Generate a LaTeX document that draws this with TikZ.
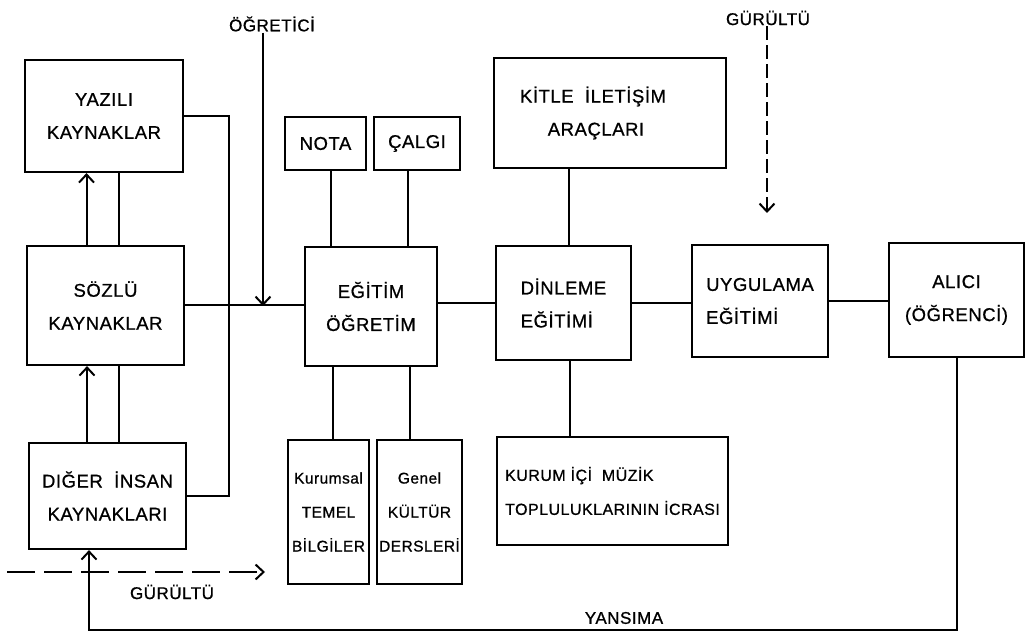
\documentclass[tikz,border=0pt]{standalone}
\usepackage{fontspec}
\setmainfont{Liberation Sans}[LetterSpace=3,FakeBold=0.8]
\usetikzlibrary{arrows.meta}
\begin{document}
\begin{tikzpicture}[x=1pt,y=-1pt,
  box/.style={draw, line width=2.2pt, inner sep=2pt, align=center, font=\fontsize{18.5}{33}\selectfont},
  smallbox/.style={font=\fontsize{15.5}{34}\selectfont, inner sep=1pt},
  conn/.style={line width=2pt},
  arr/.style={conn, -{Straight Barb[length=8pt,width=15pt,line width=2pt]}},
  lbl/.style={font=\fontsize{17}{20}\selectfont, inner sep=1pt}]
\useasboundingbox (0,0) rectangle (1031,636);
\fill[white] (0,0) rectangle (1031,636);

% boxes
\node[box, minimum width=158pt, minimum height=112pt] (yaz) at (104,116) {YAZILI\\KAYNAKLAR};
\node[box, minimum width=157pt, minimum height=119pt] (soz) at (105.5,305.5) {SÖZLÜ\\KAYNAKLAR};
\node[box, minimum width=157pt, minimum height=106pt] (dig) at (107.5,496) {DIĞER\ \ İNSAN\\KAYNAKLARI};
\node[box, minimum width=81pt, minimum height=53pt] (nota) at (325.5,143.5) {NOTA};
\node[box, minimum width=86pt, minimum height=53pt] (calgi) at (417,143.5) {ÇALGI};
\node[box, minimum width=132pt, minimum height=119pt] (egt) at (371,306.5) {EĞİTİM\\ÖĞRETİM};
\node[box, smallbox, minimum width=81pt, minimum height=144pt] (kur) at (328.5,512) {Kurumsal\\TEMEL\\BİLGİLER};
\node[box, smallbox, minimum width=85pt, minimum height=144pt] (gen) at (419.5,512) {Genel\\KÜLTÜR\\DERSLERİ};
\node[box, minimum width=232pt, minimum height=110pt] (kit) at (610,113) {KİTLE\ \ İLETİŞİM\hspace*{34pt}\\ARAÇLARI\hspace*{28pt}};
\node[box, align=left, minimum width=135pt, minimum height=114pt] (din) at (563.5,303) {DİNLEME\\EĞİTİMİ};
\node[box, align=left, font=\fontsize{16}{34}\selectfont, minimum width=231pt, minimum height=108pt] (kic) at (612.5,491) {KURUM İÇİ\ \ MÜZİK\\TOPLULUKLARININ İCRASI};
\node[box, align=left, minimum width=136pt, minimum height=112pt] (uyg) at (760,301) {UYGULAMA\\EĞİTİMİ};
\node[box, minimum width=135pt, minimum height=114pt] (ali) at (956.5,300) {ALICI\\(ÖĞRENCİ)};

% labels
\node[lbl] (ogr) at (272,24) {ÖĞRETİCİ};
\node[lbl] (gur1) at (768,18) {GÜRÜLTÜ};
\node[lbl] (gur2) at (172,592) {GÜRÜLTÜ};
\node[lbl] (yans) at (624,618) {YANSIMA};

% coordinates
\coordinate (ogrend) at (263,306);
\coordinate (g1b) at (767,213);
\coordinate (g2a) at (7,572);
\coordinate (g2b) at (265,572);
\coordinate (refl1) at (957,630);
\coordinate (refl2) at (89,630);

% left column connections
\draw[arr] ([xshift=-19pt]soz.north) -- ([xshift=-19pt]soz.north |- yaz.south);
\draw[conn] ([xshift=13pt]soz.north) -- ([xshift=13pt]soz.north |- yaz.south);
\draw[arr] ([xshift=-20.5pt]dig.north) -- ([xshift=-20.5pt]dig.north |- soz.south);
\draw[conn] ([xshift=11.5pt]dig.north) -- ([xshift=11.5pt]dig.north |- soz.south);
\draw[conn] (yaz.east) -- ++(45,0) |- (dig.east);

% main line
\draw[conn] (soz.east) -- (soz.east -| egt.west);
\draw[arr] (ogr.south -| ogrend) -- (ogrend);
\draw[conn] (din.west -| egt.east) -- (din.west);
\draw[conn] (din.east) -- (din.east -| uyg.west);
\draw[conn] (uyg.east) -- (uyg.east -| ali.west);

% branches
\draw[conn] ([xshift=5.5pt]nota.south) -- ([xshift=5.5pt]nota.south |- egt.north);
\draw[conn] ([xshift=-9pt]calgi.south) -- ([xshift=-9pt]calgi.south |- egt.north);
\draw[conn] ([xshift=4.5pt]kur.north) -- ([xshift=4.5pt]kur.north |- egt.south);
\draw[conn] ([xshift=-9.5pt]gen.north) -- ([xshift=-9.5pt]gen.north |- egt.south);
\draw[conn] ([xshift=5.5pt]din.north) -- ([xshift=5.5pt]din.north |- kit.south);
\draw[conn] ([xshift=6.5pt]din.south) -- ([xshift=6.5pt]din.south |- kic.north);

% noise
\draw[arr, dash pattern=on 14pt off 5pt] (gur1.south -| g1b) -- (g1b);
\draw[arr, dash pattern=on 28pt off 9pt] (g2a) -- (g2b);

% feedback
\draw[arr] (ali.south -| refl1) -- (refl1) -- (refl2) -- (refl2 |- dig.south);
\end{tikzpicture}
\end{document}
